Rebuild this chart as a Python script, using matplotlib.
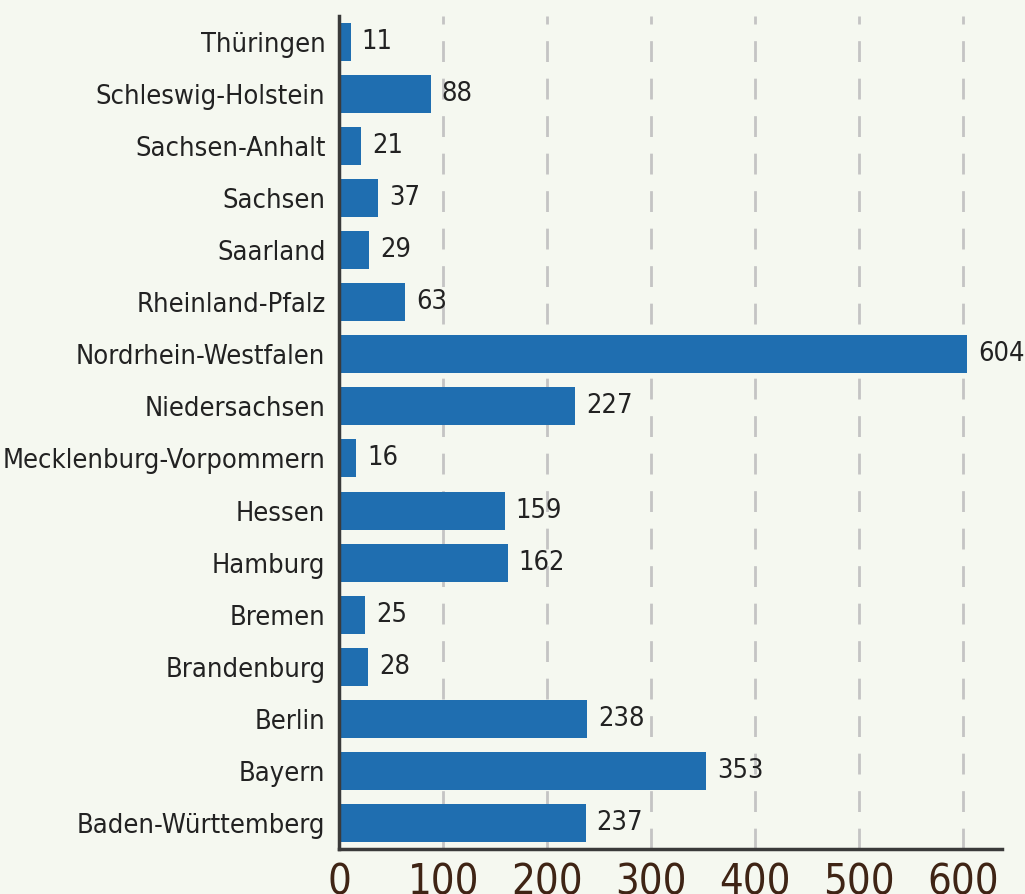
import matplotlib
matplotlib.use("Agg")
import matplotlib.pyplot as plt
import numpy as np

states = ["Baden-Württemberg", "Bayern", "Berlin", "Brandenburg", "Bremen",
          "Hamburg", "Hessen", "Mecklenburg-Vorpommern", "Niedersachsen",
          "Nordrhein-Westfalen", "Rheinland-Pfalz", "Saarland", "Sachsen",
          "Sachsen-Anhalt", "Schleswig-Holstein", "Thüringen"]
counts = [237, 353, 238, 28, 25, 162, 159, 16, 227, 604, 63, 29, 37, 21, 88, 11]
xticks = [0, 100, 200, 300, 400, 500, 600]

bg = "#f5f8f0"
bar_color = "#1f6eb0"

fig = plt.figure(figsize=(10.25, 8.94), dpi=100, facecolor=bg)
ax = fig.add_axes([0.331, 0.0503, 0.647, 0.932], facecolor=bg)

y = np.arange(len(states))
ax.barh(y, counts, height=0.73, color=bar_color, zorder=2)

# value labels right of each bar
for yi, v in zip(y, counts):
    ax.annotate(str(v), (v, yi), xytext=(8, 0), textcoords="offset points",
                va="center", ha="left", fontsize=19.5, fontstretch="condensed",
                color="#222222")

ax.set_ylim(-0.5, len(states) - 0.5)
ax.set_xlim(0, 638)
ax.set_xticks(xticks)
ax.set_yticks(y)
ax.set_yticklabels(states, fontsize=19.5, fontstretch="condensed", color="#222222")
ax.set_xticklabels([str(t) for t in xticks], fontsize=30, fontstretch="condensed",
                   color="#3f2415")
ax.tick_params(axis="both", length=0)
ax.tick_params(axis="y", pad=10)
ax.tick_params(axis="x", pad=9)

ax.grid(axis="x", linestyle=(0, (7.5, 6)), color="#c4c4c4", linewidth=2, zorder=0)
ax.set_axisbelow(True)

for s in ["top", "right"]:
    ax.spines[s].set_visible(False)
for s in ["left", "bottom"]:
    ax.spines[s].set_color("#3a3a3a")
    ax.spines[s].set_linewidth(2.5)

fig.savefig("out.png", dpi=100, facecolor=bg)
